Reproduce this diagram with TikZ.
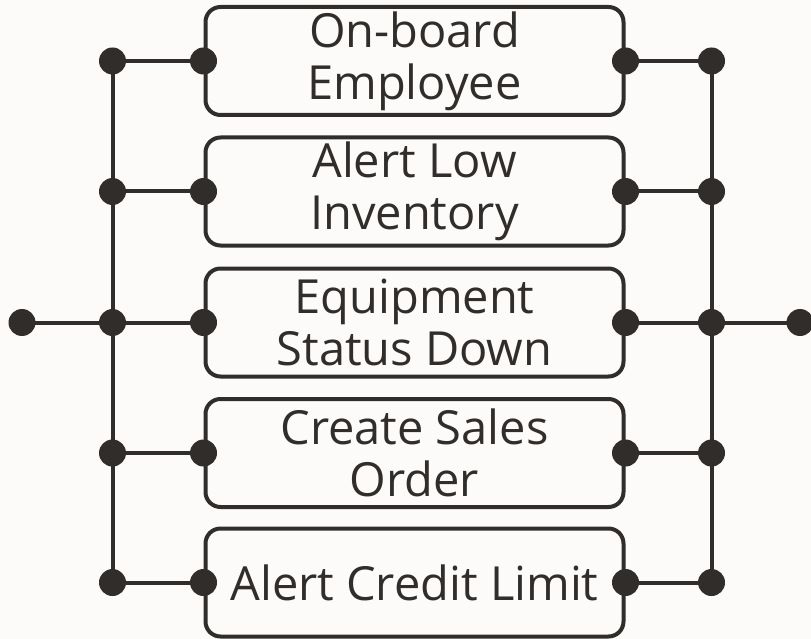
\documentclass[tikz,border=0pt]{standalone}
\usepackage{fontspec}
\setmainfont{Open Sans}
\definecolor{ink}{HTML}{312D2A}
\definecolor{bg}{HTML}{FCFBFA}
\begin{document}
\begin{tikzpicture}[x=1pt,y=-1pt,
  boxnode/.style={draw=ink,line width=4pt,rounded corners=15pt,minimum width=418pt,minimum height=108pt,inner sep=0pt,align=center,text=ink,font=\fontsize{47}{52}\selectfont},
  dotnode/.style={circle,fill=ink,minimum size=27pt,inner sep=0pt},
  wire/.style={draw=ink,line width=4pt}]
\fill[bg] (0,0) rectangle (811,639);
\useasboundingbox (0,0) rectangle (811,639);
\foreach \i/\y/\t in {1/61/{On-board\\Employee},2/191.5/{Alert Low\\Inventory},3/322.5/{Equipment\\Status Down},4/453/{Create Sales\\Order},5/582.5/{Alert Credit Limit}}{
  \node[boxnode] (b\i) at (414.5,\y) {\t};
}
\foreach \i in {1,...,5}{
  \coordinate (bl\i) at (b\i.west);
  \coordinate (br\i) at (b\i.east);
  \path (bl\i) ++(-91,0) coordinate (ll\i);
  \path (br\i) ++(86,0) coordinate (rr\i);
}
\coordinate (inp) at (22,322.5);
\coordinate (outp) at (800,322.5);
\foreach \i in {1,...,5}{
  \draw[wire] (ll\i) -- (bl\i);
  \draw[wire] (br\i) -- (rr\i);
}
\draw[wire] (ll1) -- (ll5);
\draw[wire] (rr1) -- (rr5);
\draw[wire] (inp) -- (ll3);
\draw[wire] (rr3) -- (outp);
\foreach \n in {inp,outp,ll1,ll2,ll3,ll4,ll5,rr1,rr2,rr3,rr4,rr5,bl1,bl2,bl3,bl4,bl5,br1,br2,br3,br4,br5}{
  \node[dotnode] at (\n) {};
}
\end{tikzpicture}
\end{document}
